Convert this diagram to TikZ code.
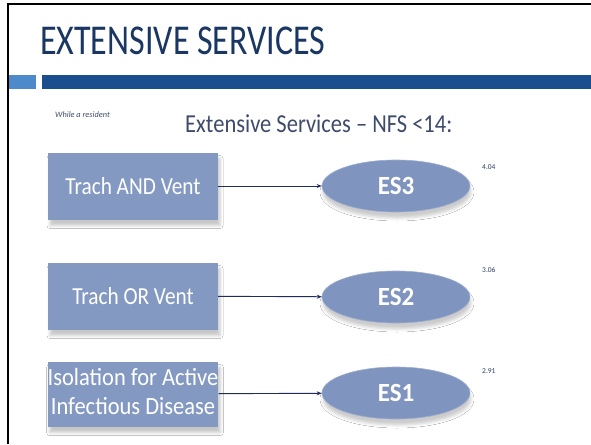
\documentclass[tikz,border=0pt]{standalone}
\usepackage{fontspec}
\setmainfont{Carlito}
\usetikzlibrary{arrows.meta,shapes.geometric,shadows.blur}

\definecolor{titleblue}{HTML}{1A3763}
\definecolor{bardark}{HTML}{1B4E8E}
\definecolor{barlight}{HTML}{4C8ACB}
\definecolor{boxfill}{HTML}{8499C2}
\definecolor{ovalfill}{HTML}{7F95BF}
\definecolor{ovalrim}{HTML}{9DAED0}
\definecolor{arrowcol}{HTML}{1F2D5C}
\definecolor{subcol}{HTML}{3E4B6C}
\definecolor{notecol}{HTML}{2E3F66}

% slightly tall lettering
\newcommand{\tall}[2][1.15]{\scalebox{1}[#1]{#2}}

\tikzset{
  stepbox/.style={rectangle, fill=boxfill, minimum width=170pt, minimum height=67pt,
    inner sep=0pt, text=white, font=\fontsize{21.3}{25}\selectfont,
    blur shadow={shadow xshift=2pt, shadow yshift=-6pt, shadow blur radius=3pt,
      shadow opacity=22}},
  oval/.style={ellipse, fill=ovalfill, draw=ovalrim, line width=0.6pt,
    minimum width=148pt, minimum height=52pt, inner sep=0pt, text=white,
    font=\fontsize{25}{28}\selectfont\bfseries,
    blur shadow={shadow xshift=1pt, shadow yshift=-6pt, shadow blur radius=3pt,
      shadow opacity=20}},
  link/.style={draw=arrowcol, line width=0.9pt, -{Stealth[length=5pt,width=4pt]}},
  score/.style={text=notecol, font=\fontsize{7.5}{9}\selectfont, inner sep=0pt},
}

\begin{document}
\begin{tikzpicture}[x=1pt,y=-1pt]
\useasboundingbox (0,0) rectangle (591,444);
\fill[white] (0,0) rectangle (591,444);

% frame
\draw[line width=2.4pt, line join=miter] (8,444) -- (8,4) -- (591,4);

% heading and rule
\node[anchor=west, inner sep=0pt, text=titleblue, font=\fontsize{34}{40}\selectfont]
  (title) at (40,41) {\tall[1.25]{EXTENSIVE SERVICES}};
\fill[barlight] (9,75) rectangle (36,89);
\fill[bardark] (42,75) rectangle (591,89);

\node[anchor=west, inner sep=0pt, text=subcol, font=\fontsize{8.3}{10}\selectfont\itshape]
  (note) at (55,115) {While a resident};
\node[anchor=west, inner sep=0pt, text=subcol, font=\fontsize{22.5}{26}\selectfont]
  (sub) at (185,124) {\tall{Extensive Services -- NFS <14:}};

% qualifying conditions
\node[stepbox] (b3) at (133,186) {\tall{Trach AND Vent}};
\node[stepbox] (b2) at (133,296) {\tall{Trach OR Vent}};
\node[stepbox, minimum height=65pt, font=\fontsize{22.5}{26}\selectfont] (b1) at (133,394)
  {\tall[1.1]{\begin{tabular}{@{}c@{}}Isolation for Active\\Infectious Disease\end{tabular}}};

% resulting categories
\node[oval] (e3) at (396,186) {\tall[1.05]{ES3}};
\node[oval] (e2) at (396,297) {\tall[1.05]{ES2}};
\node[oval] (e1) at (396,393) {\tall[1.05]{ES1}};

\draw[link] (b3) -- (e3);
\draw[link] (b2) -- (e2);
\draw[link] (b1) -- (e1);

% category values
\node[score, anchor=west] (v3) at (482,167) {4.04};
\node[score, anchor=west] (v2) at (482,270) {3.06};
\node[score, anchor=west] (v1) at (482,371) {2.91};
\end{tikzpicture}
\end{document}
